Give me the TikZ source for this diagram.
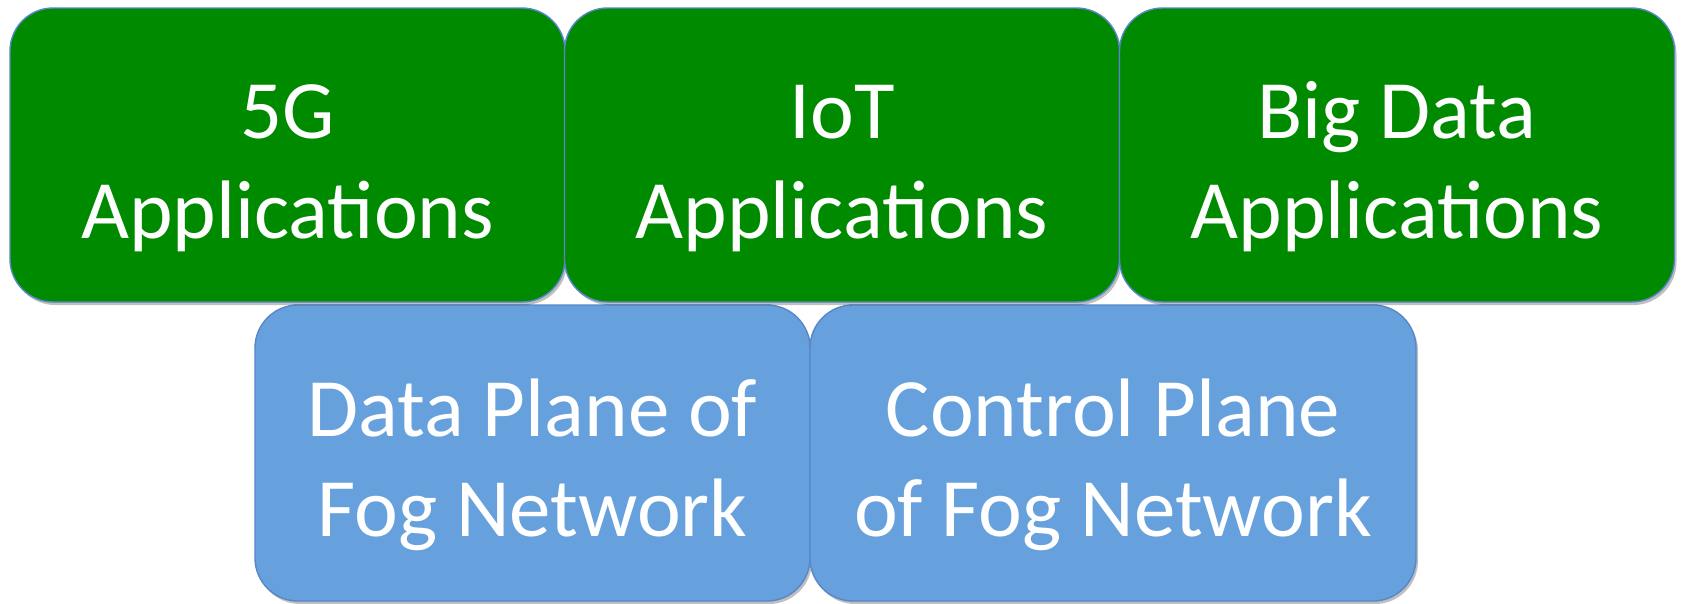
\documentclass[tikz,border=0pt]{standalone}
\usepackage{fontspec}
\setmainfont{Carlito}
\usetikzlibrary{calc,shadows}
\definecolor{appgreen}{RGB}{0,138,0}
\definecolor{fogblue}{RGB}{102,161,221}
\definecolor{edgeblue}{RGB}{88,134,200}
\tikzset{
  panel/.style={rectangle, rounded corners=43pt, draw=edgeblue, line width=1.4pt,
    inner sep=0pt, minimum height=294pt, minimum width=555pt,
    drop shadow={shadow xshift=2pt, shadow yshift=-3pt, opacity=0.25, fill=black}},
  appbox/.style={panel, fill=appgreen},
  fogbox/.style={panel, fill=fogblue, minimum height=296pt},
  lbl/.style={text=white, font=\fontsize{83}{100}\selectfont, inner sep=0pt, anchor=base}
}
\begin{document}
\begin{tikzpicture}[x=1pt,y=-1pt]
  \useasboundingbox (0,0) rectangle (1683,603);
  % lower row: fog network planes
  \node[fogbox] (d) at (532.5,453) {};
  \node[fogbox, minimum width=606pt] (c) at (1113,453) {};
  % upper row: application areas
  \node[appbox] (g1) at (287.5,155) {};
  \node[appbox] (g2) at (842,155) {};
  \node[appbox] (g3) at (1397,155) {};
  % labels, two lines per panel
  \node[lbl] (g1a) at ($(g1.center)+(0,-17)$) {5G};
  \node[lbl] (g1b) at ($(g1.center)+(0,83)$) {Applications};
  \node[lbl] (g2a) at ($(g2.center)+(0,-17)$) {IoT};
  \node[lbl] (g2b) at ($(g2.center)+(0,83)$) {Applications};
  \node[lbl] (g3a) at ($(g3.center)+(0,-17)$) {Big Data};
  \node[lbl] (g3b) at ($(g3.center)+(0,83)$) {Applications};
  \node[lbl] (da) at ($(d.center)+(0,-17)$) {Data Plane of};
  \node[lbl] (db) at ($(d.center)+(0,83)$) {Fog Network};
  \node[lbl] (ca) at ($(c.center)+(0,-17)$) {Control Plane};
  \node[lbl] (cb) at ($(c.center)+(0,83)$) {of Fog Network};
\end{tikzpicture}
\end{document}
